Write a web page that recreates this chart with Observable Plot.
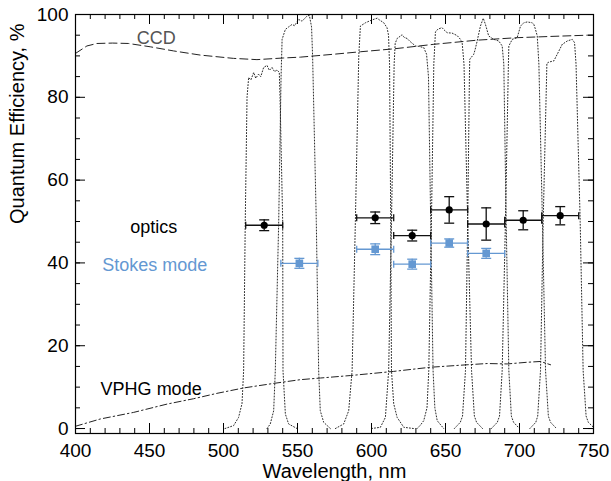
<!DOCTYPE html>
<html>
<head>
<meta charset="utf-8">
<script src="https://cdn.jsdelivr.net/npm/d3@7"></script>
<script src="https://cdn.jsdelivr.net/npm/@observablehq/plot@0.6"></script>
<style>
  html, body { margin: 0; padding: 0; background: #fff; }
  #chart { width: 611px; height: 481px; }
</style>
</head>
<body>
<div id="chart"></div>
<script>
// ---- data ----
const xTicks = [400, 450, 500, 550, 600, 650, 700, 750];
const yTicks = [0, 20, 40, 60, 80, 100];

// optics (black points)
const opticsWl = [527.5, 602.5, 627.5, 652.5, 677.5, 702.5, 727.5];
const opticsQE = [49.1, 50.9, 46.6, 52.8, 49.4, 50.3, 51.4];
const opticsErr = [1.3, 1.4, 1.3, 3.2, 3.9, 2.3, 2.2];
const opticsHalfBand = [12.5, 12.5, 12.5, 12.5, 12.5, 12.5, 12.5];

// Stokes mode (blue squares)
const stokesWl = [551.25, 602.5, 627.5, 652.5, 677.5];
const stokesQE = [39.9, 43.3, 39.7, 44.8, 42.3];
const stokesErr = [1.2, 1.3, 1.2, 1.0, 1.2];
const stokesHalfBand = [12.5, 12.5, 12.5, 12.5, 12.5];

// CCD quantum efficiency (dashed)
const ccdWl = [400, 407.7, 414.5, 425, 435.8, 450.5, 466.3, 484.3, 506.8, 522.6, 540.6, 551.9, 574.4, 592.5, 615, 642.1, 671.4, 698.4, 720.9, 745.8, 750];
const ccdQE = [90.6, 92.4, 93.0, 93.1, 93.0, 92.2, 91.2, 90.2, 89.4, 89.1, 89.5, 89.7, 90.4, 91.0, 91.7, 92.8, 93.8, 94.4, 94.7, 95.0, 95.0];

// VPHG mode (dash-dot)
const vphgWl = [400, 416.7, 439.3, 461.8, 479.8, 495.6, 513.6, 533.9, 551.9, 565.5, 585.8, 615, 639.8, 664.6, 678.2, 691.7, 705, 714.2, 721];
const vphgQE = [0.55, 2.3, 3.9, 5.9, 7.2, 8.5, 9.8, 10.9, 11.8, 12.2, 12.8, 13.8, 14.8, 15.4, 15.7, 15.6, 16.0, 16.2, 15.4];

// filter transmission curves (dotted): [wavelength, transmission %]
const filter1 = [[501,0],[506.8,0.7],[510.2,2.7],[512.5,6],[513.6,14],[514.7,50],[515.9,80],[517,84.8],[518.5,84.2],[520.4,86.0],[521.8,84.6],[523.7,85.6],[525.2,85.0],[527.1,87.2],[529.4,87.7],[531,86.5],[532.8,87.2],[534.5,86.2],[536.2,86.6],[537.7,86.0],[538.2,80],[540,50],[540.2,14],[541.8,3.5],[544,1.1],[549.7,0]];
const filter2 = [[529.4,0],[531.6,1.1],[533.9,4.3],[535,14],[537.3,50],[538.9,85],[539.6,94.0],[541.8,96.4],[544,97.0],[546.3,97.6],[548,97.3],[550.8,98.8],[553.1,98.4],[556.4,99.6],[558,99.8],[559.5,97],[560.2,90],[562.7,50],[564.3,14],[565.4,4.3],[567.7,1.5],[572.2,0]];
const filter3 = [[575.6,0],[581.2,1.1],[584.6,4.3],[586.9,14],[589.1,50],[591.4,90],[592.5,97.2],[595.9,98.0],[600.4,98.7],[603.8,99.1],[604.9,98.8],[608.3,98.0],[610.5,96.8],[611.5,95],[612.2,88],[613,50],[613.5,14],[615,6],[617.3,2.7],[621.8,0.3],[628.5,0]];
const filter4 = [[600,0],[606,0.3],[609.4,2.7],[611.6,14],[613.5,50],[615.3,88],[616,93],[617.3,94.2],[620.7,95.1],[622,94.5],[624.1,94.2],[626,93.5],[629.7,92.4],[632,92.3],[635.3,92.0],[637.2,90.4],[638.5,85],[640,50],[641.6,14],[642.8,5],[644.4,1.9],[648.8,0]];
const filter5 = [[630.8,0],[633,0.8],[635.3,1.9],[637.5,5],[638.7,14],[640.5,50],[642.1,88],[643.2,95.8],[645,96.5],[647.7,96.8],[649,96.3],[651.1,95.6],[654.5,95.5],[657.9,94.9],[660.1,94.0],[661.3,93],[662.5,88],[665,50],[667.6,14],[669.5,3],[671,1.5],[675,0]];
const filter6 = [[656,0],[660,1.5],[661.5,3],[663.5,14],[665,50],[666.2,86],[666.4,89.2],[669.1,90.4],[670,91.5],[671.4,93.6],[673.6,97.2],[675.5,99.1],[677,97.6],[679.2,94.8],[682.6,94.0],[686,93.6],[688.3,92.4],[689.4,88],[691,50],[692.8,14],[694.5,3],[696,1.5],[700,0]];
const filter7 = [[681,0],[685,1.5],[686.5,3],[688.3,14],[690.5,50],[692.5,88],[692.8,92.4],[695.1,94.0],[698.4,94.4],[700.7,97.2],[702.9,98.0],[705.2,98.2],[708.6,98.0],[709.7,97.6],[710.8,96.4],[712,94.8],[713.1,88],[715.5,50],[717.6,14],[719.5,3],[721,1.5],[725,0]];
const filter8 = [[707,0],[711,1.5],[712.3,3],[714.2,14],[716,50],[718.3,85],[718.5,88.2],[719.8,88.5],[723.2,88.8],[725.5,90.4],[728.9,92.8],[732.3,93.6],[735.6,94.0],[737.2,93.2],[738.2,88],[741,50],[743,14],[745,3],[746.5,1.5],[750,0.3]];

// ---- tables for the library ----
const filters = [filter1, filter2, filter3, filter4, filter5, filter6, filter7, filter8];
const filterRows = filters.flatMap((f, i) => f.map(([w, t]) => ({w, t, f: i})));
const ccd = ccdWl.map((w, i) => ({w, q: ccdQE[i]}));
const vphg = vphgWl.map((w, i) => ({w, q: vphgQE[i]}));
const optics = opticsWl.map((w, i) => ({x: w, y: opticsQE[i], e: opticsErr[i], h: opticsHalfBand[i]}));
const stokes = stokesWl.map((w, i) => ({x: w, y: stokesQE[i], e: stokesErr[i], h: stokesHalfBand[i]}));

const xMinor = d3.range(400, 751, 10);
const yMinor = d3.range(0, 101, 5);

const W = 611, H = 481, mL = 75, mR = 18, mT = 14, mB = 48;
const fw = W - mL - mR, fh = H - mT - mB;
const FONT = "'Liberation Sans', Arial, Helvetica, sans-serif";
const BLUE = "#6498d2";

const hLine = {draw(ctx, size) { const r = Math.sqrt(size / Math.PI); ctx.moveTo(-r, 0); ctx.lineTo(r, 0); }};
const vLine = {draw(ctx, size) { const r = Math.sqrt(size / Math.PI); ctx.moveTo(0, -r); ctx.lineTo(0, r); }};

function errMarks(data, color, dotOpts, barColor) {
  return [
    Plot.ruleY(data, {y: "y", x1: d => d.x - d.h, x2: d => d.x + d.h, stroke: barColor, strokeWidth: 1.3}),
    Plot.dot(data, {x: d => d.x - d.h, y: "y", symbol: vLine, r: 3.5, fill: "none", stroke: barColor, strokeWidth: 1.3}),
    Plot.dot(data, {x: d => d.x + d.h, y: "y", symbol: vLine, r: 3.5, fill: "none", stroke: barColor, strokeWidth: 1.3}),
    Plot.ruleX(data, {x: "x", y1: d => d.y - d.e, y2: d => d.y + d.e, stroke: barColor, strokeWidth: 1.3}),
    Plot.dot(data, {x: "x", y: d => d.y - d.e, symbol: hLine, r: 5, fill: "none", stroke: barColor, strokeWidth: 1.3}),
    Plot.dot(data, {x: "x", y: d => d.y + d.e, symbol: hLine, r: 5, fill: "none", stroke: barColor, strokeWidth: 1.3}),
    Plot.dot(data, {x: "x", y: "y", fill: color, stroke: "none", ...dotOpts})
  ];
}

const chart = Plot.plot({
  width: W, height: H,
  marginLeft: mL, marginRight: mR, marginTop: mT, marginBottom: mB,
  style: {fontFamily: FONT, background: "#fff", color: "#000", overflow: "visible"},
  x: {domain: [400, 750]},
  y: {domain: [-1.2, 100]},
  marks: [
    // filter curves
    Plot.line(filterRows, {x: "w", y: "t", z: "f", stroke: "#2a2a2a", strokeWidth: 1, strokeDasharray: "1,2", clip: true}),
    // CCD
    Plot.line(ccd, {x: "w", y: "q", stroke: "#222", strokeWidth: 1, strokeDasharray: "8,4"}),
    // VPHG
    Plot.line(vphg, {x: "w", y: "q", stroke: "#222", strokeWidth: 1, strokeDasharray: "7,3,1.5,3"}),
    // error bars + points
    ...errMarks(optics, "#000", {r: 3.6}, "#111"),
    ...errMarks(stokes, BLUE, {symbol: "square", r: 4.3}, BLUE),
    // annotations
    Plot.text(["CCD"], {x: 454.6, y: 94.3, text: d => d, fill: "#555", fontSize: 18, fontFamily: FONT}),
    Plot.text(["optics"], {x: 452.8, y: 48.5, text: d => d, fill: "#000", fontSize: 18, fontFamily: FONT}),
    Plot.text(["Stokes mode"], {x: 453.5, y: 39.5, text: d => d, fill: BLUE, fontSize: 18, fontFamily: FONT}),
    Plot.text(["VPHG mode"], {x: 451.1, y: 9.4, text: d => d, fill: "#000", fontSize: 18, fontFamily: FONT}),
    // inward ticks, all four sides
    Plot.tickX(xMinor, {x: d => d, insetTop: fh - 5, stroke: "#000"}),
    Plot.tickX(xMinor, {x: d => d, insetBottom: fh - 5, stroke: "#000"}),
    Plot.tickX(xTicks, {x: d => d, insetTop: fh - 10, stroke: "#000"}),
    Plot.tickX(xTicks, {x: d => d, insetBottom: fh - 10, stroke: "#000"}),
    Plot.tickY(yMinor, {y: d => d, insetRight: fw - 5, stroke: "#000"}),
    Plot.tickY(yMinor, {y: d => d, insetLeft: fw - 5, stroke: "#000"}),
    Plot.tickY(yTicks, {y: d => d, insetRight: fw - 10, stroke: "#000"}),
    Plot.tickY(yTicks, {y: d => d, insetLeft: fw - 10, stroke: "#000"}),
    // tick labels
    Plot.axisX({ticks: xTicks, tickSize: 0, tickPadding: 10, fontSize: 19, label: null, tickFormat: d => String(d), fill: "#000"}),
    Plot.axisY({ticks: yTicks, tickSize: 0, tickPadding: 7, fontSize: 19, label: null, tickFormat: d => String(d), fill: "#000"}),
    // axis titles
    Plot.text(["Wavelength, nm"], {frameAnchor: "bottom", dy: 30, lineAnchor: "top", text: d => d, fontSize: 20, fill: "#000", fontFamily: FONT}),
    Plot.text(["Quantum Efficiency, %"], {frameAnchor: "left", dx: -58, rotate: -90, text: d => d, fontSize: 20, fill: "#000", fontFamily: FONT}),
    Plot.frame({stroke: "#000", strokeWidth: 1.2})
  ]
});
document.getElementById("chart").appendChild(chart);
</script>
</body>
</html>
